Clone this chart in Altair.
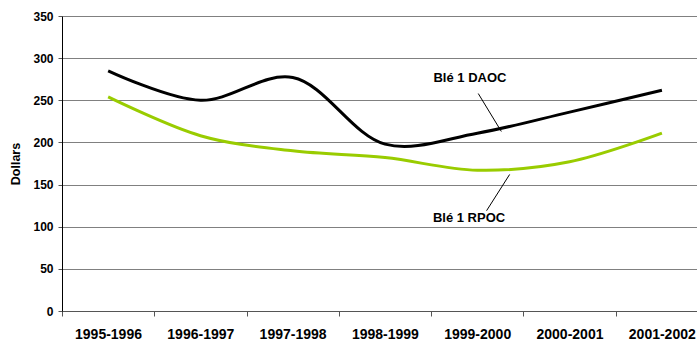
import json
import altair as alt
import pandas as pd

# Crop seasons and average prices (dollars) for the two wheat grades
periods = ["1995-1996", "1996-1997", "1997-1998", "1998-1999",
           "1999-2000", "2000-2001", "2001-2002"]
daoc = [285, 250, 277, 198, 211, 236, 262]
rpoc = [254, 208, 190, 182, 167, 177, 211]
series_names = ["Blé 1 DAOC", "Blé 1 RPOC"]
series_colors = ["#000000", "#99cc00"]

# Callout labels and their leader lines (x in season index, y in dollars)
label_x = [3.92, 3.91]
label_y = [277, 110]
leader_x = [4.01, 4.35]
leader_y = [258, 162]
leader_x2 = [4.26, 4.10]
leader_y2 = [213, 119]

FONT = "Liberation Sans"

rows = []
for name, vals in zip(series_names, [daoc, rpoc]):
    for i, v in enumerate(vals):
        rows.append({"idx": i, "value": v, "series": name})
df = pd.DataFrame(rows)

labels_df = pd.DataFrame({"x": label_x, "y": label_y, "text": series_names})
leaders_df = pd.DataFrame({"x": leader_x, "y": leader_y,
                           "x2": leader_x2, "y2": leader_y2})

x_scale = alt.Scale(domain=[-0.5, 6.38], nice=False, zero=False)
y_scale = alt.Scale(domain=[0, 350], nice=False)

label_expr = json.dumps(periods) + "[datum.value + 0.5]"

x_axis = alt.Axis(
    values=[i - 0.5 for i in range(len(periods))],
    labelExpr=label_expr,
    labelOffset=46,
    labelFlush=False,
    labelOverlap=False,
    labelBound=False,
    labelFont=FONT,
    labelFontSize=14,
    labelFontWeight="bold",
    labelColor="#000000",
    labelPadding=11,
    tickSize=5,
    tickColor="#555555",
    domainColor="#555555",
    grid=False,
    title=None,
)

y_axis = alt.Axis(
    values=list(range(0, 351, 50)),
    grid=True,
    gridColor="#808080",
    gridWidth=1,
    domainColor="#000000",
    tickColor="#555555",
    tickSize=4,
    labelFont=FONT,
    labelFontSize=12,
    labelFontWeight="bold",
    labelColor="#000000",
    labelPadding=5,
    title="Dollars",
    titleFont=FONT,
    titleFontSize=12.5,
    titleFontWeight="bold",
    titleColor="#000000",
    titlePadding=10,
)

lines = alt.Chart(df).mark_line(
    interpolate="catmull-rom", strokeWidth=3, strokeCap="butt"
).encode(
    x=alt.X("idx:Q", scale=x_scale, axis=x_axis),
    y=alt.Y("value:Q", scale=y_scale, axis=y_axis),
    color=alt.Color("series:N",
                    scale=alt.Scale(domain=series_names, range=series_colors),
                    legend=None),
)

leaders = alt.Chart(leaders_df).mark_rule(color="#000000", strokeWidth=1).encode(
    x=alt.X("x:Q", scale=x_scale),
    y=alt.Y("y:Q", scale=y_scale),
    x2="x2:Q",
    y2="y2:Q",
)

texts = alt.Chart(labels_df).mark_text(
    font=FONT, fontSize=13, fontWeight="bold", color="#000000",
    align="center", baseline="middle",
).encode(
    x=alt.X("x:Q", scale=x_scale),
    y=alt.Y("y:Q", scale=y_scale),
    text="text:N",
)

chart = alt.layer(lines, leaders, texts).properties(
    width=635,
    height=295,
    autosize=alt.AutoSizeParams(type="none"),
    padding={"left": 62, "top": 16, "right": 0, "bottom": 30},
    background="#ffffff",
).configure_view(stroke=None)

chart.save("out.html", embed_options={"renderer": "svg", "actions": False})
